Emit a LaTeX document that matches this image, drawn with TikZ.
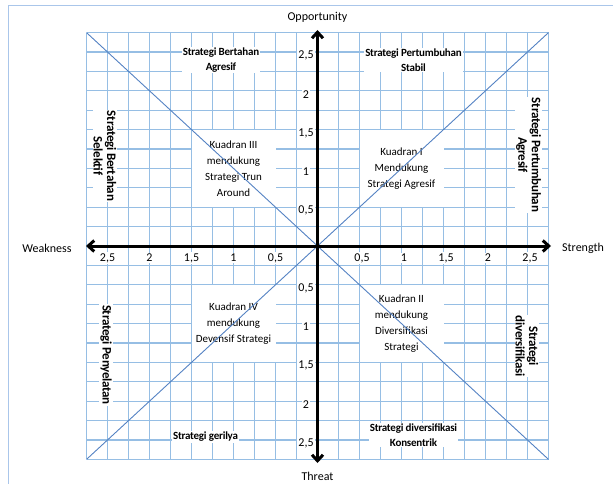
\documentclass[tikz,border=0pt]{standalone}
\usepackage{fontspec}
\setmainfont{Carlito}
\newfontfamily\condfont[LetterSpace=-2]{Carlito}
\usetikzlibrary{arrows.meta}
\definecolor{gridblue}{RGB}{150,190,228}
\definecolor{diagblue}{RGB}{84,130,195}
\definecolor{frameblue}{RGB}{170,198,234}
\begin{document}
\begin{tikzpicture}[x=1pt,y=-1pt,
  gridline/.style={gridblue, line width=1.2pt},
  diagline/.style={diagblue, line width=0.9pt},
  axisline/.style={black, line width=3pt, {Straight Barb[length=6pt,width=11pt]}-{Straight Barb[length=6pt,width=11pt]}},
  quad/.style={fill=white, minimum width=84pt, minimum height=77.6pt, align=center, inner sep=0pt, font=\fontsize{11}{16}\selectfont},
  strat/.style={fill=white, inner sep=1pt, align=center, font=\condfont\bfseries\fontsize{11}{15}\selectfont},
  vstrat/.style={fill=white, inner sep=1pt, align=center, rotate=-90, font=\condfont\bfseries\fontsize{13}{13.5}\selectfont},
  tick/.style={fill=white, inner sep=1pt, font=\fontsize{12}{14}\selectfont},
  axislabel/.style={inner sep=1pt, font=\fontsize{12}{14}\selectfont}]
\useasboundingbox (0,0) rectangle (613,484);
% frame
\draw[frameblue, line width=1pt] (613,6) -- (8,6) -- (8,484);
% grid
\foreach \k in {-11,...,11} {
  \draw[gridline] ({317.5+\k*21},32.6) -- ({317.5+\k*21},459.4);
  \draw[gridline] (86.5,{246+\k*19.4}) -- (548.5,{246+\k*19.4});
}
\coordinate (O) at (317.5,246);
\coordinate (tl) at (86.5,32.6);
\coordinate (tr) at (548.5,32.6);
\coordinate (bl) at (86.5,459.4);
\coordinate (br) at (548.5,459.4);
% quadrant boxes
\node[quad] (q3) at (233.5,168.4) {Kuadran III\\mendukung\\Strategi Trun\\Around};
\node[quad] (q1) at (401.5,168.4) {Kuadran I\\Mendukung\\Strategi Agresif};
\node[quad] (q4) at (233.5,323.6) {Kuadran IV\\mendukung\\Devensif Strategi};
\node[quad] (q2) at (401.5,323.6) {Kuadran II\\mendukung\\Diversifikasi\\Strategi};
% strategy labels
\node[strat] (s1) at (221,60) {Strategi Bertahan\\Agresif};
\node[strat] (s2) at (413.5,60) {Strategi Pertumbuhan\\Stabil};
\node[strat] (s3) at (205.5,437) {Strategi gerilya};
\node[strat] (s4) at (413.5,435) {Strategi diversifikasi\\Konsentrik};
\node[vstrat] (v1) at (105,156) {Strategi Bertahan\\Selektif};
\node[vstrat] (v2) at (528.5,155) {Strategi Pertumbuhan\\Agresif};
\node[vstrat] (v3) at (106,355) {Strategi Penyelatan};
\node[vstrat] (v4) at (527,346) {Strategi\\diversifikasi};
% tick labels
\foreach \v/\t [count=\i] in {0.5/{0,5},1/1,1.5/{1,5},2/2,2.5/{2,5}} {
  \node[tick] (xr\i) at ({317.5+84*\v+2.5},258) {\t};
  \node[tick] (xl\i) at ({317.5-84*\v},258) {\t};
  \node[tick] (yt\i) at (306,{246-77.6*\v+3.5}) {\t};
  \node[tick] (yb\i) at (306,{246+77.6*\v+3.5}) {\t};
}
% diagonals
\draw[diagline] (tl) -- (br);
\draw[diagline] (bl) -- (tr);
% axes
\coordinate (wtip) at (86,246);
\coordinate (stip) at (551,246);
\coordinate (otip) at (317.5,30);
\coordinate (ttip) at (317.5,463);
\draw[axisline] (wtip) -- (stip);
\draw[axisline] (otip) -- (ttip);
% axis labels
\node[axislabel] (opp) at (317.5,17) {Opportunity};
\node[axislabel] (thr) at (317.5,476) {Threat};
\node[axislabel] (wea) at (47,248) {Weakness};
\node[axislabel] (str) at (583,248) {Strength};
\end{tikzpicture}
\end{document}
